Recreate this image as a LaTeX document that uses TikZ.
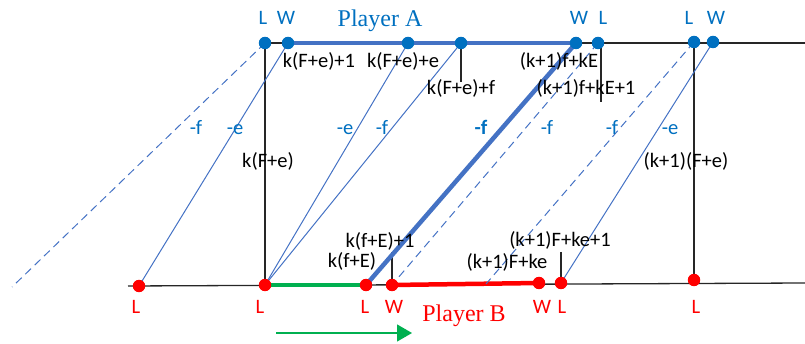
\documentclass[tikz,border=0pt]{standalone}
\usepackage{fontspec}
\setmainfont{Carlito}
\newfontfamily\tnr{Liberation Serif}
\usetikzlibrary{arrows.meta}
\definecolor{dotblue}{HTML}{0070C0}
\definecolor{lineblue}{HTML}{4472C4}
\definecolor{mygreen}{HTML}{00B050}
\tikzset{
  bdot/.style={circle,fill=dotblue,inner sep=0pt,minimum size=12pt},
  rdot/.style={circle,fill=red,inner sep=0pt,minimum size=12pt},
  axis/.style={draw=black!85,line width=1.3pt},
  bl/.style={draw=lineblue,line width=1pt},
  bldash/.style={draw=lineblue,line width=1pt,dash pattern=on 8pt off 5pt},
  blthick/.style={draw=lineblue,line width=4.5pt},
  lbl/.style={anchor=base,inner sep=0pt,font=\fontsize{20.5}{24}\selectfont},
  blbl/.style={lbl,text=dotblue},
  rlbl/.style={lbl,text=red},
}
\begin{document}
\begin{tikzpicture}[x=1pt,y=-1pt]
\useasboundingbox (0,0) rectangle (805,344);
% axes
\coordinate (topend) at (805,43);
\coordinate (botstart) at (128,286);
\coordinate (botend) at (805,283);
% top dots (positions)
\node[bdot] (tL1) at (265,43) {};
\node[bdot] (tW1) at (288,43) {};
\node[bdot] (tE) at (408,43) {};
\node[bdot] (tF) at (461,43) {};
\node[bdot] (tW2) at (576,43) {};
\node[bdot] (tL2) at (598,43) {};
\node[bdot] (tL3) at (694,42) {};
\node[bdot] (tW3) at (713,42) {};
% bottom dots
\node[rdot] (bL1) at (139,286) {};
\node[rdot] (bL2) at (265,285) {};
\node[rdot] (bL3) at (366,285) {};
\node[rdot] (bW1) at (392,285) {};
\node[rdot] (bW2) at (539,283) {};
\node[rdot] (bL4) at (561,283) {};
\node[rdot] (bL5) at (694,280) {};
% free ends
\coordinate (dash1end) at (12,287);
\coordinate (dash3end) at (486,284);
\coordinate (tickF) at (461,82);
\coordinate (tickL2t) at (601,43);
\coordinate (tickL2) at (601,102);
\coordinate (tickW1) at (392,252);
\coordinate (tickL4) at (561,252);
\coordinate (arrS) at (276,333);
\coordinate (arrE) at (412,333);
% black lines
\draw[axis] (tL1.center) -- (topend);
\draw[axis] (botstart) -- (botend);
\draw[axis] (tL1.center) -- (bL2.center);
\draw[axis] (tL3.center) -- (bL5.center);
\draw[axis] (tF.center) -- (tickF);
\draw[axis] (tickL2t) -- (tickL2);
\draw[axis] (tickW1) -- (bW1.center);
\draw[axis] (tickL4) -- (bL4.center);
% thick segments
\draw[blthick] (tW1.center) -- (tW2.center);
\draw[draw=mygreen,line width=4.5pt] (bL2.center) -- (bL3.center);
\draw[draw=red,line width=4.5pt] (bW1.center) -- (bW2.center);
% blue diagonals
\draw[bldash] (tL1.center) -- (dash1end);
\draw[bl] (tW1.center) -- (bL1.center);
\draw[bl] (tE.center) -- (bL2.center);
\draw[bl] (tF.center) -- (bL2.center);
\draw[blthick] (tW2.center) -- (bL3.center);
\draw[bldash] (tL2.center) -- (bW1.center);
\draw[bldash] (tL3.center) -- (dash3end);
\draw[bl] (tW3.center) -- (bL4.center);
% redraw dots on top
\foreach \n in {tL1,tW1,tE,tF,tW2,tL2,tL3,tW3} \fill[dotblue] (\n) circle (6.2pt);
\foreach \n in {bL1,bL2,bL3,bW1,bW2,bL4,bL5} \fill[red] (\n) circle (6.2pt);
% green arrow
\draw[draw=mygreen,line width=1.3pt,-{Triangle[length=15pt,width=17pt]}] (arrS) -- (arrE);
% top letters
\node[blbl] (lt1) at (263,25) {L};
\node[blbl] (lt2) at (286,25) {W};
\node[blbl] (lt3) at (579,25) {W};
\node[blbl] (lt4) at (603,25) {L};
\node[blbl] (lt5) at (689,25) {L};
\node[blbl] (lt6) at (716,25) {W};
\node[anchor=base,inner sep=0pt,text=dotblue,font=\tnr\fontsize{24}{28}\selectfont] (pa) at (380,27) {Player A};
% bottom letters
\node[rlbl] (lb1) at (136,313) {L};
\node[rlbl] (lb2) at (260,313) {L};
\node[rlbl] (lb3) at (365,313) {L};
\node[rlbl] (lb4) at (394,313) {W};
\node[rlbl] (lb5) at (542,313) {W};
\node[rlbl] (lb6) at (562,313) {L};
\node[rlbl] (lb7) at (696,313) {L};
\node[anchor=base,inner sep=0pt,text=red,font=\tnr\fontsize{24}{28}\selectfont] (pb) at (464,322) {Player B};
% blue slope labels
\node[blbl] (s1) at (196,135) {-f};
\node[blbl] (s2) at (235,135) {-e};
\node[blbl] (s3) at (345,135) {-e};
\node[blbl] (s4) at (382,135) {-f};
\node[blbl,font=\fontsize{20.5}{24}\selectfont\bfseries] (s5) at (481,135) {-f};
\node[blbl] (s6) at (547,135) {-f};
\node[blbl] (s7) at (612,135) {-f};
\node[blbl] (s8) at (670,135) {-e};
% black value labels
\node[lbl] (v1) at (319,68) {k(F+e)+1};
\node[lbl] (v2) at (403,68) {k(F+e)+e};
\node[lbl] (v3) at (461,95) {k(F+e)+f};
\node[lbl] (v4) at (559,68) {(k+1)f+kE};
\node[lbl] (v5) at (586,95) {(k+1)f+kE+1};
\node[lbl] (v6) at (268,168) {k(F+e)};
\node[lbl] (v7) at (686,168) {(k+1)(F+e)};
\node[lbl] (v8) at (380,248) {k(f+E)+1};
\node[lbl] (v9) at (352,268) {k(f+E)};
\node[lbl] (v10) at (560,247) {(k+1)F+ke+1};
\node[lbl] (v11) at (507,269) {(k+1)F+ke};
\end{tikzpicture}
\end{document}
